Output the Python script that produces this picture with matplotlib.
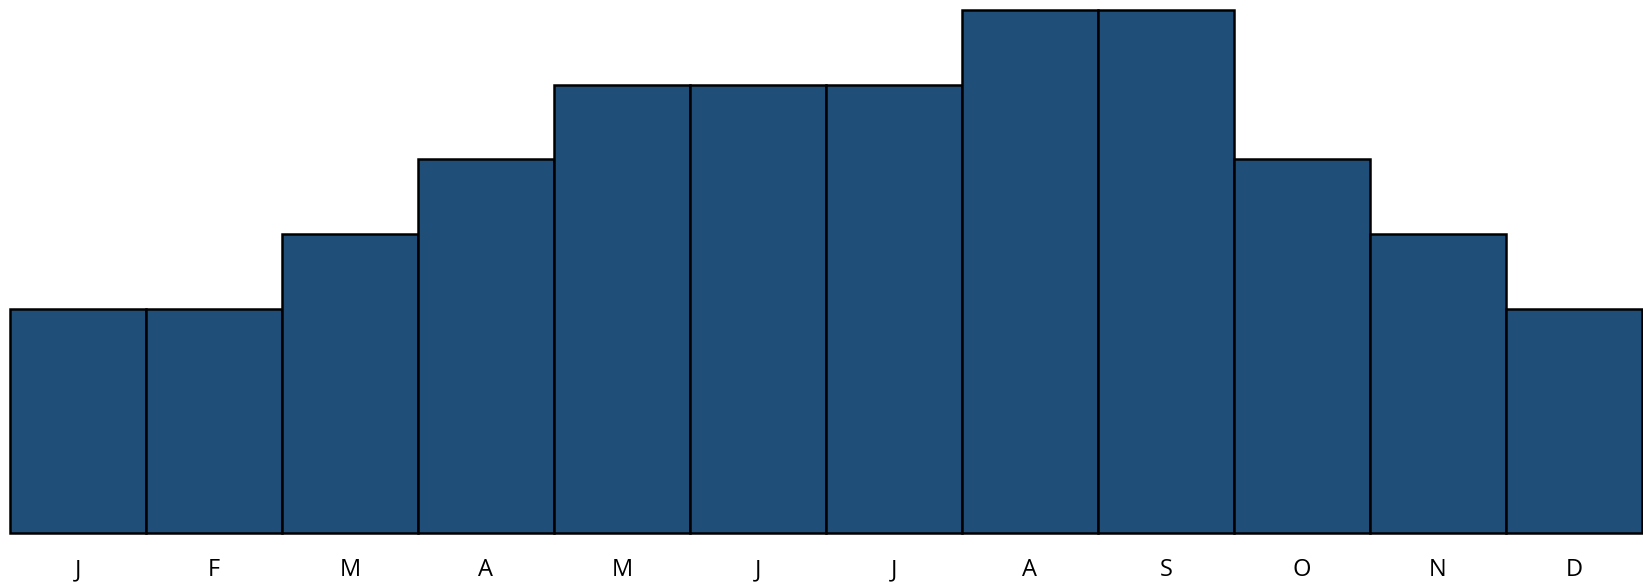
import matplotlib
matplotlib.use('Agg')
import matplotlib.pyplot as plt

months = ["J", "F", "M", "A", "M", "J", "J", "A", "S", "O", "N", "D"]
values = [3, 3, 4, 5, 6, 6, 6, 7, 7, 5, 4, 3]

fig = plt.figure(figsize=(16.43, 5.85), dpi=100)
ax = fig.add_axes([10 / 1643, 52 / 585, 1632 / 1643, 523 / 585])

x = range(len(months))
bars = ax.bar(x, values, width=1.0, color="#1F4E79", edgecolor="black", linewidth=1.8)
for b in bars:
    b.set_clip_on(False)

ax.set_xlim(-0.5, len(months) - 0.5)
ax.set_ylim(0, 7)
ax.set_xticks(list(x))
ax.set_xticklabels(months, fontsize=17, family="Open Sans")
ax.tick_params(axis="x", length=0, pad=18)
ax.set_yticks([])
for s in ax.spines.values():
    s.set_visible(False)

plt.savefig("out.png", dpi=100)
plt.close()
